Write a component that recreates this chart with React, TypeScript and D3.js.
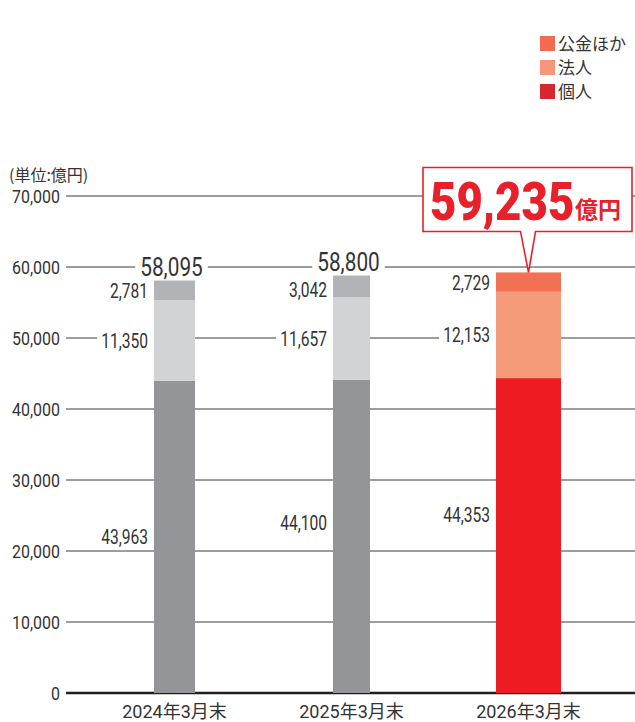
import React, { useEffect, useRef } from "react";
import * as d3 from "d3";

const categories = ["2024年3月末", "2025年3月末", "2026年3月末"];
const kojin = [43963, 44100, 44353];
const hojin = [11350, 11657, 12153];
const kokin = [2781, 3042, 2729];
const totals = [58095, 58800, 59235];
const yTicks = [0, 10000, 20000, 30000, 40000, 50000, 60000, 70000];
const legendLabels = ["公金ほか", "法人", "個人"];
const unitLabel = "(単位:億円)";
const highlightUnit = "億円";

// styles
const W = 635;
const H = 722;
const barWidths = [41, 37, 65];
const grayColors = ["#939598", "#d1d3d4", "#b1b3b6"];
const redColors = ["#ed1c24", "#f59a7a", "#f27153"];
const legendColors = ["#f26b50", "#f7967a", "#d9262c"];
const labelNudge = [
  [0, 0, 1],
  [-13, 0, 4],
  [-21, 0, 1],
];
const NUM_FONT = "Roboto, 'Noto Sans CJK JP', sans-serif";
const CJK_FONT = "'Noto Sans CJK JP', 'Noto Sans', sans-serif";
const TXT = "#333333";
const SX = 0.8;

export default function App() {
  const ref = useRef<SVGSVGElement | null>(null);

  useEffect(() => {
    const svg = d3.select(ref.current);
    svg.selectAll("*").remove();

    const y = d3.scaleLinear().domain([0, 70000]).range([693, 196]);
    const x = d3.scalePoint<string>().domain(categories).range([174.5, 528.5]);
    const fmt = d3.format(",");

    const gGrid = svg.append("g");
    const gBg = svg.append("g");
    const gBars = svg.append("g");
    const gText = svg.append("g");

    const ctext = (
      g: any,
      tx: number,
      ty: number,
      s: string,
      size: number,
      anchor: string,
      fill = TXT,
      weight = "400",
      sx = SX
    ) =>
      g
        .append("text")
        .attr("transform", `translate(${tx},${ty}) scale(${sx},1)`)
        .attr("font-family", NUM_FONT)
        .attr("font-size", size)
        .attr("font-weight", weight)
        .attr("text-anchor", anchor)
        .attr("fill", fill)
        .text(s);

    // grid
    yTicks.forEach((t) => {
      gGrid
        .append("line")
        .attr("x1", 66)
        .attr("x2", W)
        .attr("y1", y(t))
        .attr("y2", y(t))
        .attr("stroke", t === 0 ? "#231f20" : "#3a3a3a")
        .attr("stroke-width", t === 0 ? 2.5 : 1);
      ctext(gText, 60, y(t) + 7, fmt(t), 19, "end", TXT, "400", 0.84);
    });

    // unit label
    gText
      .append("text")
      .attr("x", 9)
      .attr("y", 181)
      .attr("font-family", CJK_FONT)
      .attr("font-size", 16)
      .attr("fill", TXT)
      .text(unitLabel);

    // bars
    categories.forEach((c, i) => {
      const cx = x(c)!;
      const bw = barWidths[i];
      const left = cx - bw / 2;
      const cols = i === 2 ? redColors : grayColors;
      const segs = [kojin[i], hojin[i], kokin[i]];
      let base = 0;
      segs.forEach((v, j) => {
        const y0 = y(base);
        const y1 = y(base + v);
        gBars
          .append("rect")
          .attr("x", left)
          .attr("y", y1)
          .attr("width", bw)
          .attr("height", y0 - y1)
          .attr("fill", cols[j]);
        const my = (y0 + y1) / 2 + labelNudge[i][j];
        const t = ctext(gText, left - 6, my + 7, fmt(v), 19.5, "end");
        const bb = (t.node() as SVGTextElement).getBoundingClientRect();
        const sb = (ref.current as SVGSVGElement).getBoundingClientRect();
        gBg
          .append("rect")
          .attr("x", bb.left - sb.left - 4)
          .attr("y", my - 9)
          .attr("width", left - (bb.left - sb.left - 4))
          .attr("height", 18)
          .attr("fill", "#fff");
        base += v;
      });

      const top = y(totals[i]);
      if (i < 2) {
        const t = ctext(gText, cx - 3, top - 5, fmt(totals[i]), 26, "middle", TXT, "400", 0.8);
        const bb = (t.node() as SVGTextElement).getBoundingClientRect();
        const sb = (ref.current as SVGSVGElement).getBoundingClientRect();
        gBg
          .append("rect")
          .attr("x", bb.left - sb.left - 5)
          .attr("y", top - 24)
          .attr("width", bb.width + 10)
          .attr("height", 20)
          .attr("fill", "#fff");
      } else {
        // callout
        const bx0 = 423;
        const bx1 = 632;
        const by1 = top - 41;
        const by0 = by1 - 64;
        const p = d3.path();
        p.moveTo(bx0, by0);
        p.lineTo(bx1, by0);
        p.lineTo(bx1, by1);
        p.lineTo(cx + 7, by1);
        p.lineTo(cx, top);
        p.lineTo(cx - 8, by1);
        p.lineTo(bx0, by1);
        p.closePath();
        gText
          .append("path")
          .attr("d", p.toString())
          .attr("fill", "#fff")
          .attr("stroke", "#e8202a")
          .attr("stroke-width", 1.6)
          .attr("stroke-linejoin", "miter");
        ctext(gText, 430, by1 - 11, fmt(totals[i]), 53, "start", "#e8202a", "900", 0.86);
        gText
          .append("text")
          .attr("x", 575)
          .attr("y", by1 - 13)
          .attr("font-family", CJK_FONT)
          .attr("font-size", 23)
          .attr("font-weight", 700)
          .attr("fill", "#e8202a")
          .text(highlightUnit);
      }

      gText
        .append("text")
        .attr("x", cx)
        .attr("y", 718)
        .attr("text-anchor", "middle")
        .attr("font-family", NUM_FONT)
        .attr("font-size", 18)
        .attr("fill", TXT)
        .text(c);
    });

    // legend
    legendLabels.forEach((l, i) => {
      const ly = 36 + i * 24;
      gText
        .append("rect")
        .attr("x", 540)
        .attr("y", ly)
        .attr("width", 15)
        .attr("height", 15)
        .attr("fill", legendColors[i]);
      gText
        .append("text")
        .attr("x", 558)
        .attr("y", ly + 14)
        .attr("font-family", CJK_FONT)
        .attr("font-size", 17)
        .attr("fill", TXT)
        .text(l);
    });
  }, []);

  return (
    <svg
      ref={ref}
      width={W}
      height={H}
      style={{ position: "absolute", left: 0, top: 0, background: "#fff" }}
    />
  );
}
